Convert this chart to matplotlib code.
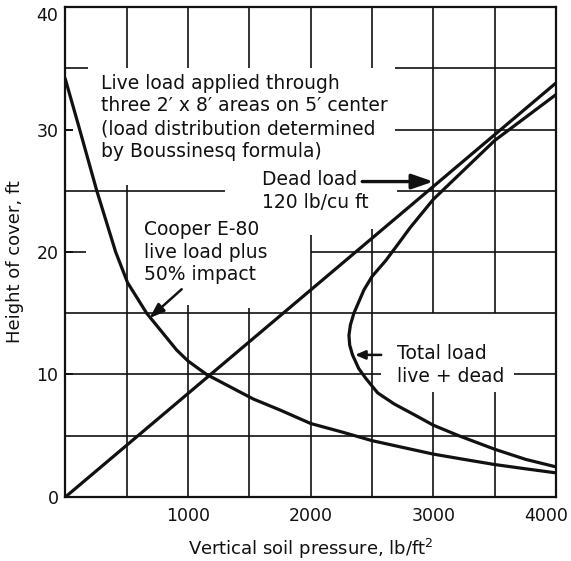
import matplotlib.pyplot as plt
from matplotlib.transforms import ScaledTranslation

# dead load, 120 lb/cu ft
dead_p = [0, 4000]
dead_h = [0, 33.8]

# Cooper E-80 live load plus 50% impact
live_p = [0, 108, 256, 410, 507, 663, 907, 1000, 1152, 1532, 1750, 2000,
          2257, 2500, 2754, 3000, 3250, 3500, 3753, 4000]
live_h = [34.1, 30.3, 25.0, 20.0, 17.5, 15.0, 12.0, 11.1, 10.0, 8.0, 7.1, 6.0,
          5.3, 4.6, 4.04, 3.5, 3.07, 2.65, 2.3, 1.97]

# total load, live + dead
total_p = [4000, 3500, 3000, 2812, 2709, 2612, 2500, 2434, 2391, 2352, 2324,
           2312, 2318, 2341, 2391, 2448, 2546, 2680, 2866, 3000, 3208,
           3500, 3753, 4000]
total_h = [32.85, 29.1, 24.3, 22.0, 20.6, 19.3, 18.0, 16.9, 15.9, 15.0, 14.05,
           13.2, 12.4, 11.6, 10.5, 9.7, 8.5, 7.6, 6.6, 5.86, 5.0,
           3.9, 3.07, 2.46]

x_ticks = [1000, 2000, 3000, 4000]
y_ticks = [0, 10, 20, 30, 40]

# grid lines are broken where the notes sit
grid_v = {500: [(35, 40), (0, 25.5)], 1000: [(35, 40), (0, 15.7)],
          1500: [(35, 40), (0, 15.4)], 2000: [(35, 40), (0, 21.4)],
          2500: [(35, 40), (0, 21.9)], 3000: [(15, 40), (0, 8.6)],
          3500: [(15, 40), (0, 8.6)]}
grid_h = {5: [(0, 4000)], 10: [(0, 2570), (3655, 4000)], 15: [(0, 4000)],
          20: [(0, 170), (2000, 4000)], 25: [(0, 1300), (2700, 4000)],
          30: [(2690, 4000)], 35: [(0, 185), (2690, 4000)]}

ink = '#111111'
plt.rcParams['font.family'] = 'DejaVu Sans'

fig = plt.figure(figsize=(5.71, 5.61), dpi=100)
ax = fig.add_axes([0.1145, 0.1141, 0.8592, 0.8734])
ax.set_xlim(0, 4000)
ax.set_ylim(0, 40)

for x, segs in grid_v.items():
    for y0, y1 in segs:
        ax.vlines(x, y0, y1, color=ink, lw=1.2, zorder=1)
for y, segs in grid_h.items():
    for x0, x1 in segs:
        ax.hlines(y, x0, x1, color=ink, lw=1.2, zorder=1)

ax.plot(dead_p, dead_h, color=ink, lw=2.3, zorder=3, solid_capstyle='butt')
ax.plot(live_p, live_h, color=ink, lw=2.3, zorder=3)
ax.plot(total_p, total_h, color=ink, lw=2.3, zorder=3)

txt = dict(fontsize=13.5, color=ink, ha='left', va='center', linespacing=1.25)
ax.text(290, 31.0, "Live load applied through\nthree 2\u2032 x 8\u2032 areas on 5\u2032 center\n"
        "(load distribution determined\nby Boussinesq formula)", **txt)
ax.text(1600, 25.0, "Dead load\n120 lb/cu ft", **txt)
ax.text(640, 20.0, "Cooper E-80\nlive load plus\n50% impact", **txt)
ax.text(2706, 10.8, "Total load\nlive + dead", **txt)

ax.annotate('', xy=(3000, 25.75), xytext=(2420, 25.75),
            arrowprops=dict(arrowstyle='-|>,head_length=1.3,head_width=0.45',
                            lw=2.4, color=ink, mutation_scale=10,
                            shrinkA=0, shrinkB=0))
ax.annotate('', xy=(685, 14.6), xytext=(948, 16.96),
            arrowprops=dict(arrowstyle='-|>,head_length=0.9,head_width=0.32',
                            lw=1.8, color=ink, mutation_scale=10,
                            shrinkA=0, shrinkB=0))
ax.annotate('', xy=(2362, 11.6), xytext=(2575, 11.6),
            arrowprops=dict(arrowstyle='-|>,head_length=0.6,head_width=0.26',
                            lw=1.8, color=ink, mutation_scale=10,
                            shrinkA=0, shrinkB=0))

ax.set_xticks(x_ticks)
ax.set_yticks(y_ticks)
ax.tick_params(direction='in', length=6, width=1.4, labelsize=12.5,
               colors=ink, pad=5)
ax.tick_params(axis='x', length=0, pad=7)
for s in ax.spines.values():
    s.set_linewidth(1.6)
    s.set_color(ink)

# keep the edge labels inside the picture, as in the print
lab = ax.get_xticklabels()[-1]
lab.set_transform(lab.get_transform() + ScaledTranslation(-0.1, 0, fig.dpi_scale_trans))
lab = ax.get_yticklabels()[-1]
lab.set_transform(lab.get_transform() + ScaledTranslation(0, -0.07, fig.dpi_scale_trans))

ax.set_xlabel('Vertical soil pressure, lb/ft$^2$', fontsize=13, color=ink)
ax.set_ylabel('Height of cover, ft', fontsize=13, color=ink)
ax.xaxis.set_label_coords(0.5, -0.082)
ax.yaxis.set_label_coords(-0.084, 0.48)

fig.savefig('out.png', dpi=100)
